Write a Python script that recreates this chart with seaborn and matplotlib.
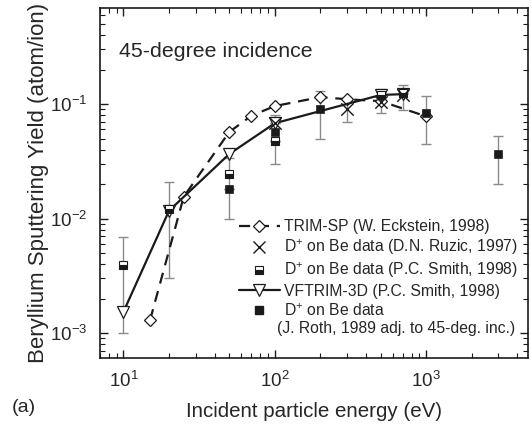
import numpy as np
import pandas as pd
import matplotlib
matplotlib.use("Agg")
import matplotlib.pyplot as plt
from matplotlib.lines import Line2D
from matplotlib.ticker import LogLocator, NullFormatter
import seaborn as sns

# ---- data ----
trim_x = [15, 25, 50, 70, 100, 200, 300, 500, 1000]
trim_y = [1.3e-3, 0.0155, 0.057, 0.079, 0.096, 0.115, 0.110, 0.106, 0.078]

vf_x = [10, 20, 50, 100, 500, 700]
vf_y = [1.53e-3, 0.0117, 0.0366, 0.068, 0.120, 0.122]

ruzic_x = [100, 300, 500, 700]
ruzic_y = [0.068, 0.090, 0.105, 0.120]
ruzic_lo = [0.068, 0.070, 0.083, 0.089]
ruzic_hi = [0.068, 0.114, 0.135, 0.147]

smith_x = [10, 20, 50, 100, 500, 700]
smith_y = [3.9e-3, 0.012, 0.0245, 0.048, 0.120, 0.124]
smith_lo = [1.0e-3, 3.0e-3, 0.010, 0.048, 0.120, 0.124]
smith_hi = [6.9e-3, 0.021, 0.034, 0.048, 0.120, 0.124]

roth_x = [50, 100, 200, 1000, 3000]
roth_y = [0.018, 0.057, 0.090, 0.084, 0.0366]
roth_lo = [0.018, 0.030, 0.050, 0.045, 0.020]
roth_hi = [0.018, 0.080, 0.130, 0.118, 0.0526]

labels = [
    "TRIM-SP (W. Eckstein, 1998)",
    r"D$^{+}$ on Be data (D.N. Ruzic, 1997)",
    r"D$^{+}$ on Be data (P.C. Smith, 1998)",
    "VFTRIM-3D (P.C. Smith, 1998)",
    r"D$^{+}$ on Be data",
]
roth_note = "(J. Roth, 1989 adj. to 45-deg. inc.)"

sns.set_theme(style="ticks")
plt.rcParams['font.family'] = ['Liberation Sans', 'DejaVu Sans']
plt.rcParams['mathtext.fontset'] = 'custom'
plt.rcParams['mathtext.rm'] = 'Liberation Sans'
plt.rcParams['mathtext.it'] = 'Liberation Sans'

fig = plt.figure(figsize=(5.32, 4.32), dpi=100)
ax = fig.add_axes([100/532, 1-358/432, 428/532, 350/432])
ax.set_xscale('log')
ax.set_yscale('log')

ecol = '#8a8a8a'
def ebars(x, y, lo, hi):
    y = np.array(y); lo = np.array(lo); hi = np.array(hi)
    ax.errorbar(x, y, yerr=[y-lo, hi-y], fmt='none', ecolor=ecol,
                elinewidth=1.0, capsize=3.5, capthick=1.0, zorder=1)

ebars(smith_x, smith_y, smith_lo, smith_hi)
ebars(roth_x, roth_y, roth_lo, roth_hi)
ebars(ruzic_x, ruzic_y, ruzic_lo, ruzic_hi)

sns.lineplot(x=trim_x, y=trim_y, ax=ax, color='k', linestyle=(0, (5, 3.5)),
             linewidth=1.6, marker='D', markersize=6, markerfacecolor='white',
             markeredgecolor='k', markeredgewidth=0.9, zorder=3, legend=False)
sns.lineplot(x=vf_x, y=vf_y, ax=ax, color='k', linestyle='-', linewidth=1.6,
             marker='v', markersize=8, markerfacecolor='white',
             markeredgecolor='k', markeredgewidth=0.9, zorder=3, legend=False)
ax.plot(smith_x, smith_y, linestyle='none', marker='s', markersize=5.5,
        fillstyle='bottom', markerfacecolor='k', markerfacecoloralt='white',
        markeredgecolor='k', markeredgewidth=0.8, zorder=4)
sns.scatterplot(x=roth_x, y=roth_y, ax=ax, marker='s', s=36, color='k',
                edgecolor='k', zorder=4, legend=False)
sns.scatterplot(x=ruzic_x, y=ruzic_y, ax=ax, marker='x', s=80, color='k',
                linewidth=1.0, zorder=5, legend=False)

ax.set_xlim(7, 4700)
ax.set_ylim(6.05e-4, 0.69)

ax.xaxis.set_major_locator(LogLocator(base=10, numticks=10))
ax.yaxis.set_major_locator(LogLocator(base=10, numticks=10))
ax.xaxis.set_minor_locator(LogLocator(base=10, subs=np.arange(2, 10), numticks=20))
ax.yaxis.set_minor_locator(LogLocator(base=10, subs=np.arange(2, 10), numticks=20))
ax.xaxis.set_minor_formatter(NullFormatter())
ax.yaxis.set_minor_formatter(NullFormatter())
ax.tick_params(which='both', direction='in', top=True, right=True, color='k')
ax.tick_params(which='major', length=6, width=1, labelsize=13.5, pad=9)
ax.tick_params(which='minor', length=3.5, width=0.8)
for s in ax.spines.values():
    s.set_linewidth(1.2)
    s.set_color('k')

ax.set_xlabel("Incident particle energy (eV)", fontsize=14.8, labelpad=8)
ax.set_ylabel("Beryllium Sputtering Yield (atom/ion)", fontsize=16, labelpad=1)
ax.text(0.045, 0.875, "45-degree incidence", transform=ax.transAxes,
        fontsize=15.4, ha='left', va='center')
fig.text(12/532, 1-408/432, "(a)", fontsize=14, ha='left', va='center')

handles = [
    Line2D([], [], color='k', linestyle=(0, (5, 3.5)), linewidth=1.6, marker='D',
           markersize=6, markerfacecolor='white', markeredgecolor='k', markeredgewidth=0.9),
    Line2D([], [], linestyle='none', marker='x', markersize=9, color='k', markeredgewidth=1.0),
    Line2D([], [], linestyle='none', marker='s', markersize=5.5, fillstyle='bottom',
           markerfacecolor='k', markerfacecoloralt='white', markeredgecolor='k', markeredgewidth=0.8),
    Line2D([], [], color='k', linestyle='-', linewidth=1.6, marker='v', markersize=8,
           markerfacecolor='white', markeredgecolor='k', markeredgewidth=0.9),
    Line2D([], [], linestyle='none', marker='s', markersize=6, color='k'),
]
leg = ax.legend(handles, labels, loc='upper left', bbox_to_anchor=(0.31, 0.415),
                frameon=False, fontsize=11.3, handlelength=2.6, handletextpad=0.25,
                labelspacing=0.22, borderaxespad=0)
ax.text((277-100)/428, (358-329)/350, roth_note, transform=ax.transAxes,
        fontsize=11.3, ha='left', va='center')

fig.savefig("out.png", dpi=100)
